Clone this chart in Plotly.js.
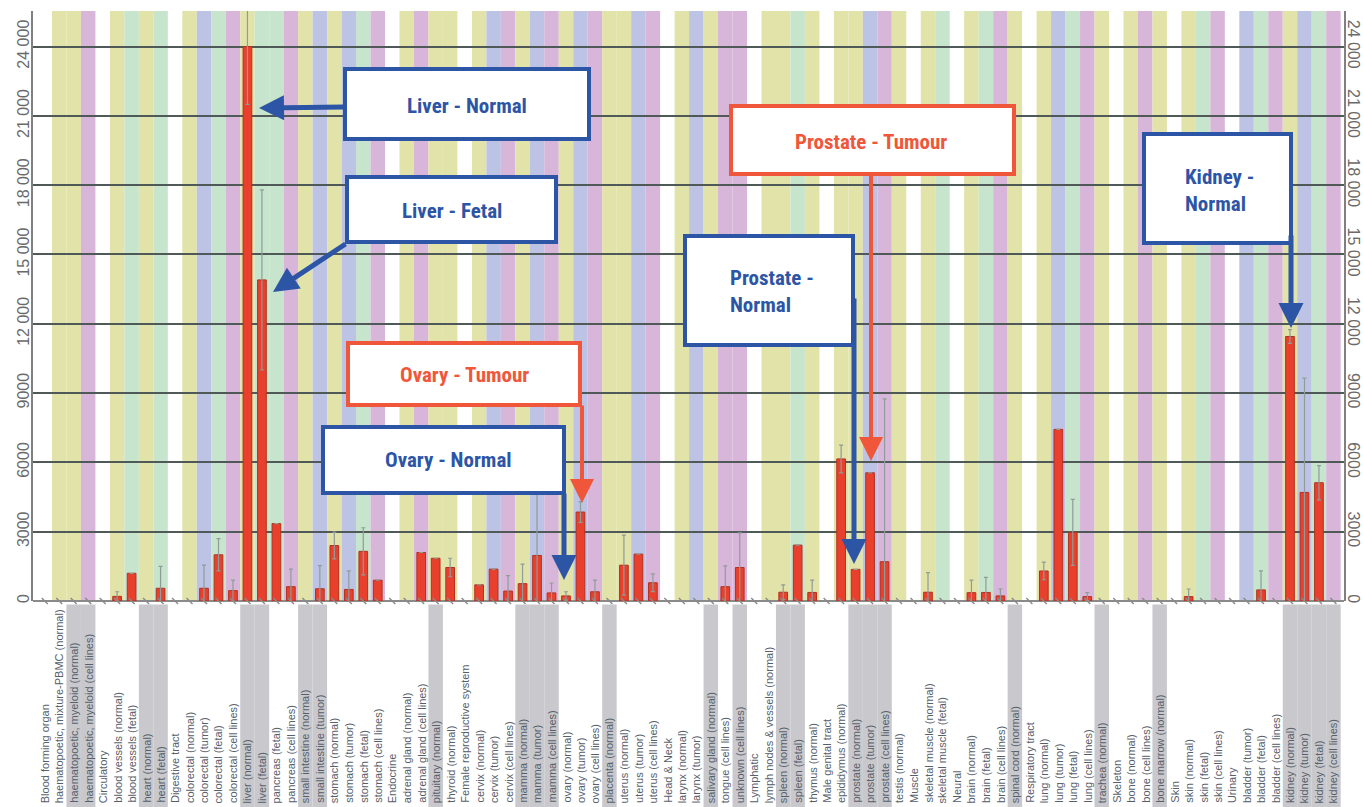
<!DOCTYPE html>
<html><head><meta charset="utf-8">
<script src="https://cdn.plot.ly/plotly-3.0.1.min.js"></script>
<style>html,body{margin:0;padding:0;background:#fff}#chart{width:1363px;height:807px}</style>
</head><body><div id="chart"></div>
<script>
// ---------------- DATA ----------------
const categories = [
  "Blood forming organ","haematopoetic, mixture-PBMC (normal)","haematopoetic, myeloid (normal)","haematopoetic, myeloid (cell lines)",
  "Circulatory","blood vessels (normal)","blood vessels (fetal)","heart (normal)","heart (fetal)",
  "Digestive tract","colorectal (normal)","colorectal (tumor)","colorectal (fetal)","colorectal (cell lines)",
  "liver (normal)","liver (fetal)","pancreas (fetal)","pancreas (cell lines)","small intestine (normal)","small intestine (tumor)",
  "stomach (normal)","stomach (tumor)","stomach (fetal)","stomach (cell lines)",
  "Endocrine","adrenal gland (normal)","adrenal gland (cell lines)","pituitary (normal)","thyroid (normal)",
  "Female reproductive system","cervix (normal)","cervix (tumor)","cervix (cell lines)","mamma (normal)","mamma (tumor)","mamma (cell lines)",
  "ovary (normal)","ovary (tumor)","ovary (cell lines)","placenta (normal)","uterus (normal)","uterus (tumor)","uterus (cell lines)",
  "Head & Neck","larynx (normal)","larynx (tumor)","salivary gland (normal)","tongue (cell lines)","unknown (cell lines)",
  "Lymphatic","lymph nodes & vessels (normal)","spleen (normal)","spleen (fetal)","thymus (normal)",
  "Male genital tract","epididymus (normal)","prostate (normal)","prostate (tumor)","prostate (cell lines)","testis (normal)",
  "Muscle","skeletal muscle (normal)","skeletal muscle (fetal)",
  "Neural","brain (normal)","brain (fetal)","brain (cell lines)","spinal cord (normal)",
  "Respiratory tract","lung (normal)","lung (tumor)","lung (fetal)","lung (cell lines)","trachea (normal)",
  "Skeleton","bone (normal)","bone (cell lines)","bone marrow (normal)",
  "Skin","skin (normal)","skin (fetal)","skin (cell lines)",
  "Urinary","bladder (tumor)","bladder (fetal)","bladder (cell lines)","kidney (normal)","kidney (tumor)","kidney (fetal)","kidney (cell lines)"
];
const expression = [
  0,0,0,0,
  0,200,1200,0,550,
  0,0,550,2000,450,
  24000,13900,3350,620,0,530,
  2400,500,2150,900,
  0,0,2100,1850,1450,
  0,700,1380,430,750,1970,350,
  220,3850,400,0,1550,2030,790,
  0,0,0,0,620,1450,
  0,0,380,2420,370,
  0,6150,1370,5550,1700,0,
  0,380,0,
  0,360,370,220,0,
  0,1300,7430,2970,190,0,
  0,0,0,0,
  0,190,0,0,
  0,0,480,0,11450,4700,5120,0
];
const errorPlus = [
  null,null,null,null,
  null,200,null,null,950,
  null,null,1000,700,450,
  2500,3900,null,760,null,1000,
  580,800,1020,null,
  null,null,null,null,400,
  null,null,null,670,850,2700,430,
  180,450,500,null,1300,null,380,
  null,null,null,null,900,1500,
  null,null,320,null,530,
  null,600,null,null,7050,null,
  null,850,null,
  null,540,650,300,null,
  null,380,null,1430,170,null,
  null,null,null,null,
  null,330,null,null,
  null,null,820,null,300,4950,740,null
];
const highlighted = [
  "haematopoetic, myeloid (normal)","haematopoetic, myeloid (cell lines)","heart (normal)","heart (fetal)",
  "liver (normal)","liver (fetal)","small intestine (normal)","small intestine (tumor)","pituitary (normal)",
  "mamma (normal)","mamma (tumor)","mamma (cell lines)","placenta (normal)","salivary gland (normal)","unknown (cell lines)",
  "spleen (normal)","spleen (fetal)","prostate (normal)","prostate (tumor)","prostate (cell lines)",
  "spinal cord (normal)","trachea (normal)","bone marrow (normal)",
  "kidney (normal)","kidney (tumor)","kidney (fetal)","kidney (cell lines)"
];
const yTickValues = [0,3000,6000,9000,12000,15000,18000,21000,24000];

// ---------------- STYLE / LAYOUT CONFIG ----------------
const bandColors = {normal:'#e2e3a9', tumor:'#bcc3e4', fetal:'#c6e5cc', cell:'#d8b6da'};
function sampleType(label){
  if (label.indexOf('(normal)')>=0) return 'normal';
  if (label.indexOf('(tumor)')>=0) return 'tumor';
  if (label.indexOf('(fetal)')>=0) return 'fetal';
  if (label.indexOf('(cell lines)')>=0) return 'cell';
  return 'header';
}
const PLOT = {l:33, r:1344, t:11, b:601};
const px = x => (x-PLOT.l)/(PLOT.r-PLOT.l);
const py = y => (PLOT.b-y)/(PLOT.b-PLOT.t);
const BLUE='#2d55a6', ORANGE='#f0573a';
const callouts = [
  {text:'Liver - Normal', c:BLUE, box:[345,69,589,139], tx:467, ty:106, align:'center', tail:[345,107], tip:[259,108], w:5, s:1.0},
  {text:'Liver - Fetal', c:BLUE, box:[347,177,556,242], tx:452, ty:211, align:'center', tail:[347,243], tip:[273,292], w:5, s:1.0},
  {text:'Ovary - Tumour', c:ORANGE, box:[348,343,580,405], tx:464, ty:375, align:'center', tail:[582,404], tip:[582,503], w:4, s:1.2},
  {text:'Ovary - Normal', c:BLUE, box:[323,427,564,493], tx:448, ty:460, align:'center', tail:[564,492], tip:[564,580], w:5, s:1.0},
  {text:'Prostate - Tumour', c:ORANGE, box:[731,106,1014,174], tx:871, ty:142, align:'center', tail:[871,174], tip:[871,461], w:4, s:1.2},
  {text:'Prostate -<br>Normal', c:BLUE, box:[685,236,853,345], tx:728, ty:291, align:'left', tail:[854,297], tip:[854,564], w:5, s:1.0},
  {text:'Kidney -<br>Normal', c:BLUE, box:[1144,134,1291,243], tx:1183, ty:191, align:'left', tail:[1291,234], tip:[1291,328], w:5, s:1.0}
];

const idx = categories.map((_,i)=>i);
const shapes = [];
categories.forEach((lab,i)=>{
  const t = sampleType(lab);
  if (t!=='header') shapes.push({type:'rect', xref:'x', yref:'paper', x0:i-0.5, x1:i+0.5, y0:0, y1:1,
    fillcolor:bandColors[t], line:{width:0}, layer:'below'});
  if (highlighted.indexOf(lab)>=0) shapes.push({type:'rect', xref:'x', yref:'paper', x0:i-0.5, x1:i+0.5, y0:-0.36, y1:-0.006,
    fillcolor:'#c9c9cd', line:{width:0}, layer:'below'});
});
callouts.forEach(co=>{
  shapes.push({type:'rect', xref:'paper', yref:'paper', x0:px(co.box[0]), x1:px(co.box[2]), y0:py(co.box[3]), y1:py(co.box[1]),
    fillcolor:'#ffffff', line:{color:co.c, width:4}, layer:'above'});
});

const annotations = [];
categories.forEach((lab,i)=>{
  annotations.push({xref:'x', yref:'paper', x:i, y:py(804), xanchor:'center', yanchor:'bottom', textangle:-90,
    text:lab, showarrow:false, font:{family:'Liberation Sans, Arial, sans-serif', size:11, color:'#56606b'}, borderpad:0});
});
const calloutFont = 'Liberation Sans Narrow, Arial Narrow, Roboto Condensed, Roboto, sans-serif';
callouts.forEach(co=>{
  annotations.push({xref:'paper', yref:'paper', x:px(co.tx), y:py(co.ty), xanchor: co.align==='left'?'left':'center', yanchor:'middle',
    text:co.text, align:co.align, showarrow:false, font:{family:calloutFont, size:21, color:co.c, weight:'bold'}});
  annotations.push({xref:'paper', yref:'paper', x:px(co.tip[0]), y:py(co.tip[1]), text:'', showarrow:true,
    ax:co.tail[0]-co.tip[0], ay:co.tail[1]-co.tip[1], arrowhead:2, arrowwidth:co.w, arrowsize:co.s, arrowcolor:co.c, standoff:0, startstandoff:0});
});

const bars = {
  type:'bar', x:idx, y:expression.map(v=>v>0?v:null), width:0.6,
  marker:{color:'#e8402c', line:{color:'#b5301f', width:1}},
  error_y:{type:'data', symmetric:true, array:errorPlus, color:'#8e9c9a', thickness:1.2, width:2},
  hoverinfo:'x+y', cliponaxis:true
};
const baseMarks = {
  type:'scatter', mode:'markers', x:idx, y:idx.map(()=>0), yaxis:'y2',
  marker:{symbol:'line-nw', size:6, line:{color:'#8a8a8a', width:1.4}},
  cliponaxis:false, hoverinfo:'skip'
};

const yBase = {range:[0,25540], tickvals:yTickValues, tickangle:-90, ticks:'', showline:true, linecolor:'#808080', linewidth:2,
  exponentformat:'none', separatethousands:false,
  tickfont:{family:'Liberation Sans, Arial, sans-serif', size:16, color:'#6a6a6a'}};
const layout = {
  width:1363, height:807, margin:{l:33, r:19, t:11, b:206, pad:0},
  paper_bgcolor:'#ffffff', plot_bgcolor:'#ffffff', showlegend:false, separators:'. ',
  bargap:0,
  xaxis:{range:[-0.81,89.73], showticklabels:false, showgrid:false, zeroline:false, ticks:'', showline:false, fixedrange:true},
  yaxis:Object.assign({}, yBase, {side:'left', showgrid:true, gridcolor:'#4f5a58', gridwidth:2, zeroline:true, zerolinecolor:'#8a8a8a', zerolinewidth:2, ticklabelstandoff:-4}),
  yaxis2:Object.assign({}, yBase, {side:'right', overlaying:'y', tickangle:90, showgrid:false, zeroline:false, ticklabelstandoff:-4}),
  shapes:shapes, annotations:annotations
};
Plotly.newPlot('chart', [bars, baseMarks], layout, {staticPlot:true, displayModeBar:false});
</script></body></html>
